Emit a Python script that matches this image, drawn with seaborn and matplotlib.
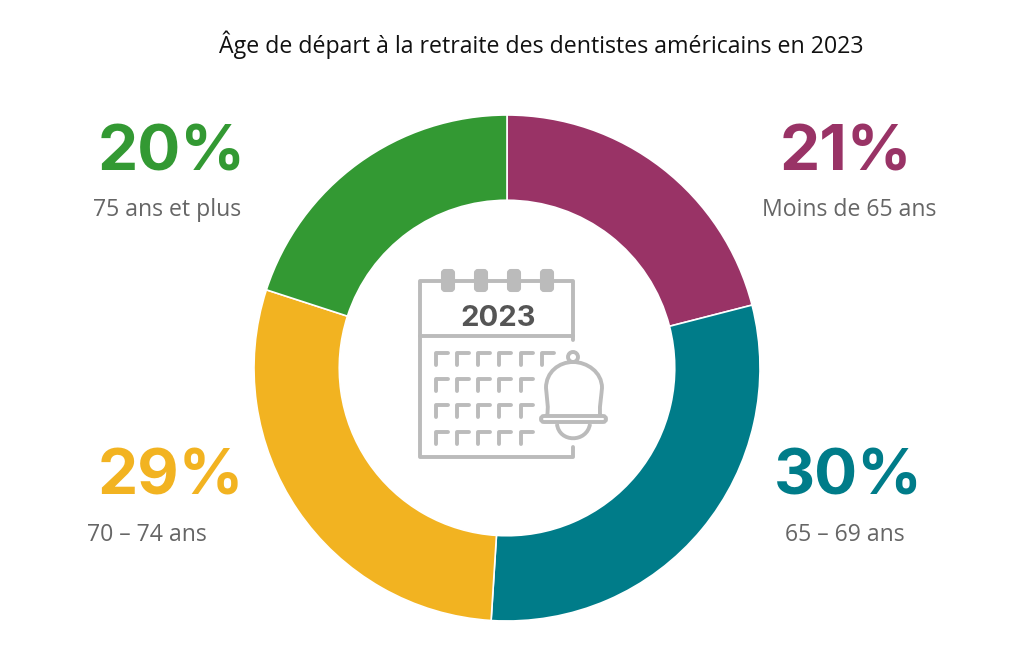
"""Donut chart: retirement age of American dentists in 2023."""
import matplotlib

matplotlib.use("Agg")
import matplotlib.pyplot as plt
import seaborn as sns
from matplotlib.patches import Circle, FancyBboxPatch, PathPatch
from matplotlib.path import Path

TITLE = "Âge de départ à la retraite des dentistes américains en 2023"
CATEGORIES = ["Moins de 65 ans", "65 – 69 ans", "70 – 74 ans", "75 ans et plus"]
VALUES = [21, 30, 29, 20]
COLORS = ["#993366", "#007C89", "#F2B321", "#339933"]

W, H = 1024, 646
GREY = "#BBBBBB"

# label anchors in pixels: (pct x, pct y, label x, label y)
LABEL_POS = [
    (846, 154, 849, 210),
    (848, 478, 845, 535),
    (171, 478, 147, 535),
    (172, 154, 167, 210),
]


def draw_icon(ax):
    """Calendar with bell, in pixel coordinates."""
    stroke = dict(color=GREY, lw=2.8, solid_capstyle="round", solid_joinstyle="round")
    corner = dict(stroke, lw=2.8)
    ax.plot([573, 573, 420, 420, 573, 573], [340, 281, 281, 457, 457, 447], **stroke)
    ax.plot([420, 573], [336, 336], **stroke)

    for x in [448, 481, 514, 547]:
        ax.add_patch(FancyBboxPatch((x - 6, 270), 12, 21,
                                    boxstyle="round,pad=0,rounding_size=3",
                                    fc=GREY, ec=GREY, lw=1.5))

    col_x = [436, 457, 478, 499, 521, 542]
    row_y = [353, 379, 405, 432]
    for i, y in enumerate(row_y):
        cols = col_x if i == 0 else col_x[:5]
        for x in cols:
            ax.plot([x, x, x + 12], [y + 12, y, y], **corner)

    ax.text(498, 318, "2023", ha="center", va="center", fontsize=21,
            fontweight="bold", family="Inter", color="#555555")

    # bell
    body = Path(
        [(546, 418), (550, 412), (546, 392), (546, 388), (546, 372), (559, 362),
         (573, 362), (587, 362), (602, 372), (602, 388), (602, 392), (598, 412),
         (601, 418)],
        [Path.MOVETO] + [Path.CURVE4] * 12,
    )
    ax.add_patch(PathPatch(body, fc="white", ec=GREY, lw=2.8))
    ax.add_patch(FancyBboxPatch((541, 416), 65, 6,
                                boxstyle="round,pad=0,rounding_size=3",
                                fc="white", ec=GREY, lw=2.8))
    ax.add_patch(Circle((573, 357), 5, fc="white", ec=GREY, lw=2.8))
    clapper = Path(
        [(557, 424), (559, 443), (587, 443), (590, 424)],
        [Path.MOVETO, Path.CURVE4, Path.CURVE4, Path.CURVE4],
    )
    ax.add_patch(PathPatch(clapper, fc="none", ec=GREY, lw=2.8))


sns.set_theme(style="white")
plt.rcParams["font.family"] = ["Open Sans", "DejaVu Sans"]

fig = plt.figure(figsize=(W / 100, H / 100), dpi=100)

# pie axes spans the donut's outer diameter: centre (507, 368), radius 253
cx, cy, r = 507, 368, 253
ax_pie = fig.add_axes([(cx - r) / W, 1 - (cy + r) / H, 2 * r / W, 2 * r / H])
ax_pie.pie(
    VALUES, colors=sns.color_palette(COLORS), startangle=90, counterclock=False,
    radius=1, wedgeprops=dict(width=0.337, edgecolor="white", linewidth=1.2),
)
ax_pie.set_xlim(-1, 1)
ax_pie.set_ylim(-1, 1)

# overlay in image pixels for text and the icon
ax = fig.add_axes([0, 0, 1, 1])
ax.set_xlim(0, W)
ax.set_ylim(H, 0)
ax.axis("off")
ax.patch.set_alpha(0)

ax.text(541, 45, TITLE, ha="center", va="center", fontsize=16.7, color="#111111")

for cat, val, col, pos in zip(CATEGORIES, VALUES, COLORS, LABEL_POS):
    px, py, lx, ly = pos
    ax.text(px, py, f"{val}%", ha="center", va="center", fontsize=46,
            fontweight="bold", family="Inter", color=col)
    ax.text(lx, ly, cat, ha="center", va="center", fontsize=16.6, color="#666666")

draw_icon(ax)

fig.savefig("out.png", dpi=100)
plt.close(fig)
